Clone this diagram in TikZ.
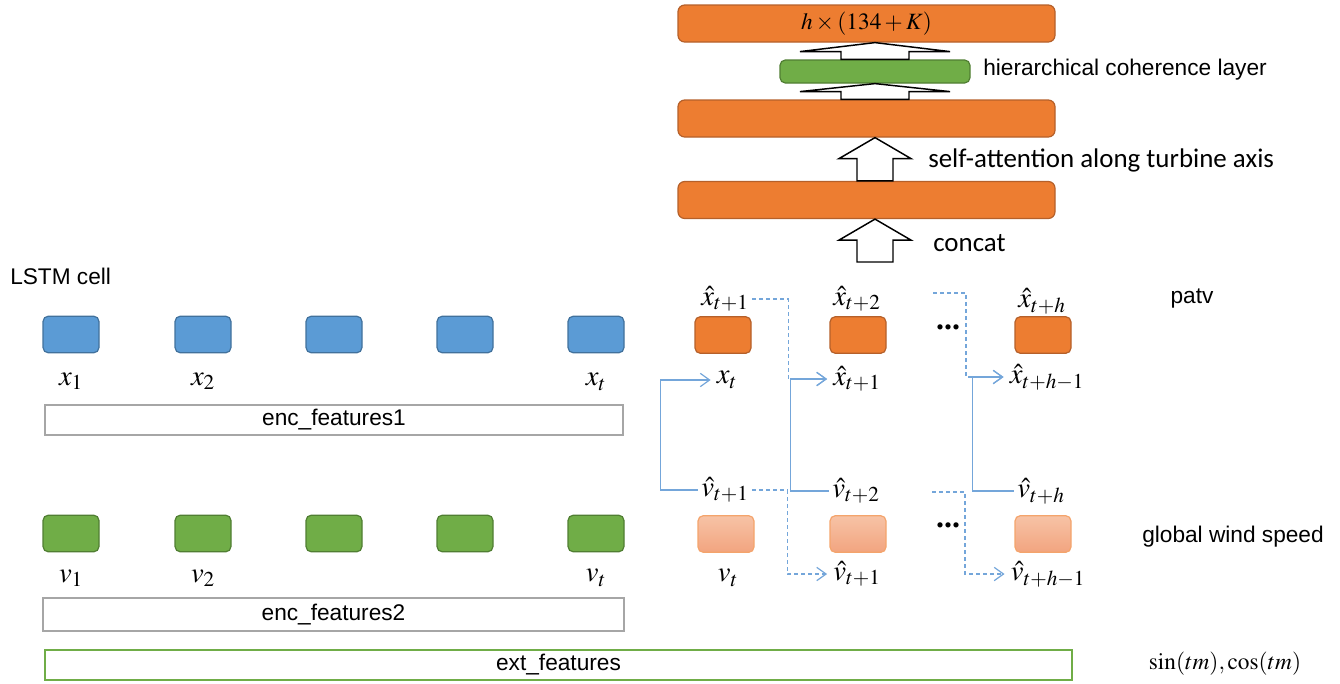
\documentclass[tikz,border=0pt]{standalone}
\usepackage{mathptmx}
\usepackage{fontspec}
\setmainfont{Liberation Serif}
\newfontfamily\arialf{Liberation Sans}
\newfontfamily\calf{Carlito}
\usetikzlibrary{arrows.meta,calc}
\definecolor{cOr}{HTML}{ED7D31}
\definecolor{cOrD}{HTML}{B5602A}
\definecolor{cBl}{HTML}{5B9BD5}
\definecolor{cBlD}{HTML}{41719C}
\definecolor{cGr}{HTML}{70AD47}
\definecolor{cGrD}{HTML}{507E32}
\definecolor{cLoT}{HTML}{F7C3A6}
\definecolor{cLoB}{HTML}{F2A47F}
\definecolor{cLoD}{HTML}{F4A46C}
\definecolor{cGray}{HTML}{A6A6A6}
\definecolor{cLine}{HTML}{74A6DA}
\newcommand\fsA{\fontsize{17}{20}\selectfont}
\newcommand\fsC{\fontsize{20.2}{23}\selectfont}
\newcommand\fsM{\fontsize{17.5}{20}\selectfont}
\newcommand\fsL{\fontsize{21.5}{24}\selectfont}
\newcommand\drawfat[5]{\draw[fat] let \p1=(#1), \p2=(#2) in
 (\x1-#3*0.75pt,\y1-#4*0.75pt) -- (\x1,\y1) -- (\x1+#3*0.75pt,\y1-#4*0.75pt)
 -- (\x1+#5*0.75pt,\y1-#4*0.75pt) -- (\x1+#5*0.75pt,\y2) -- (\x1-#5*0.75pt,\y2)
 -- (\x1-#5*0.75pt,\y1-#4*0.75pt) -- cycle;}
\begin{document}
\begin{tikzpicture}[x=0.75pt,y=-0.75pt,
  cell/.style={rounded corners=4pt, minimum width=42pt, minimum height=27.5pt, inner sep=0pt, line width=0.9pt},
  bcell/.style={cell, fill=cBl, draw=cBlD},
  gcell/.style={cell, fill=cGr, draw=cGrD},
  ocell/.style={cell, fill=cOr, draw=cOrD},
  lcell/.style={cell, top color=cLoT, bottom color=cLoB, draw=cLoD},
  bar/.style={rounded corners=5pt, minimum width=282.75pt, minimum height=27.75pt, inner sep=0pt, fill=cOr, draw=cOrD, line width=0.9pt},
  gbar/.style={rounded corners=4pt, minimum width=142.5pt, minimum height=17.25pt, inner sep=0pt, fill=cGr, draw=cGrD, line width=0.9pt},
  encbox/.style={draw=cGray, line width=1.5pt, fill=white, inner sep=0pt, font=\arialf\fsA},
  extbox/.style={draw=cGr, line width=1.5pt, fill=white, inner sep=0pt, font=\arialf\fsA},
  fat/.style={draw=black, fill=white, line width=1.1pt, line join=miter},
  lbl/.style={inner sep=2.5pt, font=\fsL},
  atxt/.style={inner sep=0pt, font=\arialf\fsA},
  ctxt/.style={inner sep=0pt, font=\calf\fsC},
  dotstyle/.style={inner sep=0pt, font=\fontsize{24}{24}\selectfont\bfseries},
  conn/.style={draw=cLine, line width=0.9pt},
  dconn/.style={conn, dash pattern=on 3pt off 2.25pt},
  tip/.style={-{Straight Barb[length=7pt,width=10pt]}, shorten >=2pt}
]
\useasboundingbox (0,0) rectangle (1340,683);

% top stack
\node[bar] (top1) at (866.5,23.5) {\fsM $h\times(134+K)$};
\node[gbar] (grn) at (875,71.5) {};
\node[bar] (bar3) at (866.5,118.5) {};
\node[bar] (bar4) at (866.5,200) {};
\coordinate (cb) at (876,262);
\drawfat{top1.south -| grn.north}{grn.north}{75}{9}{34}
\drawfat{grn.south}{bar3.north -| grn.south}{75}{8}{34}
\drawfat{bar3.south -| grn.south}{bar4.north -| grn.south}{36}{21}{18}
\drawfat{bar4.south -| grn.south}{cb}{36}{21}{18}
\node[atxt, anchor=west] (thc) at (983,70) {hierarchical coherence layer};
\node[ctxt, anchor=west] (tsa) at (928,160) {self-attention along turbine axis};
\node[ctxt, anchor=west] (tcc) at (933,243) {concat};

% left encoder
\node[atxt, anchor=west] (tlstm) at (10,276) {LSTM cell};
\foreach \i/\x in {1/71,2/203,3/334,4/465,5/596}{
  \node[bcell] (b\i) at (\x,334.5) {};
  \node[gcell] (g\i) at (\x,533.5) {};
}
\node[lbl] (lx1) at (71,381) {$x_1$};
\node[lbl] (lx2) at (203,381) {$x_2$};
\node[lbl] (lxt) at (596,382) {$x_t$};
\node[lbl] (lv1) at (71,578) {$v_1$};
\node[lbl] (lv2) at (203,578) {$v_2$};
\node[lbl] (lvt) at (596,578) {$v_t$};
\node[encbox, minimum width=433.5pt, minimum height=22.5pt] (enc1) at (334,420) {enc\_features1};
\node[encbox, minimum width=435.75pt, minimum height=24.75pt] (enc2) at (333.5,614.5) {enc\_features2};
\node[extbox, minimum width=770.25pt, minimum height=22.5pt] (ext) at (558.5,665) {ext\_features};

% decoder
\node[ocell] (o1) at (723,335) {};
\node[ocell] (o2) at (858,335) {};
\node[ocell] (o3) at (1043,335) {};
\node[lcell] (l1) at (726,534) {};
\node[lcell] (l2) at (858,534) {};
\node[lcell] (l3) at (1043,534) {};
\node[dotstyle] (dots1) at (948,327) {...};
\node[dotstyle] (dots2) at (948,525) {...};

\node[lbl] (xh1) at (725,299) {$\hat{x}_{t+1}$};
\node[lbl] (xh2) at (857,299) {$\hat{x}_{t+2}$};
\node[lbl] (xhh) at (1042,301) {$\hat{x}_{t+h}$};
\node[lbl] (xtb) at (727,380) {$x_t$};
\node[lbl] (xh1b) at (857,379) {$\hat{x}_{t+1}$};
\node[lbl] (xhhb) at (1047,377) {$\hat{x}_{t+h-1}$};
\node[lbl] (vh1) at (725,490) {$\hat{v}_{t+1}$};
\node[lbl] (vh2) at (856,491) {$\hat{v}_{t+2}$};
\node[lbl] (vhh) at (1041,491) {$\hat{v}_{t+h}$};
\node[lbl] (vtb) at (728,578) {$v_t$};
\node[lbl] (vh1b) at (857,574) {$\hat{v}_{t+1}$};
\node[lbl] (vhhb) at (1048,574) {$\hat{v}_{t+h-1}$};

\coordinate (d1) at (933,293);
\coordinate (d2) at (932,492);
\draw[conn, tip] (vh1.west) -- ++(-37,0) |- (xtb.west);
\draw[conn, tip] (vh2.west) -- ++(-38,0) |- (xh1b.west);
\draw[conn, tip] (vhh.west) -- ++(-41,0) |- (xhhb.west);
\draw[dconn, tip] (xh1.east) -- ++(36,0) |- (xh1b.west);
\draw[dconn, tip] (d1) -- ++(33,0) |- (xhhb.west);
\draw[dconn, tip] (vh1.east) -- ++(35,0) |- (vh1b.west);
\draw[dconn, tip] (d2) -- ++(33,0) |- (vhhb.west);

% right labels
\node[atxt] (tpatv) at (1192,299) {patv};
\node[atxt] (tgws) at (1233,537) {global wind speed};
\node[inner sep=0pt, font=\fsM] (tsc) at (1225,664) {$\sin(tm){,}\cos(tm)$};
\end{tikzpicture}
\end{document}
